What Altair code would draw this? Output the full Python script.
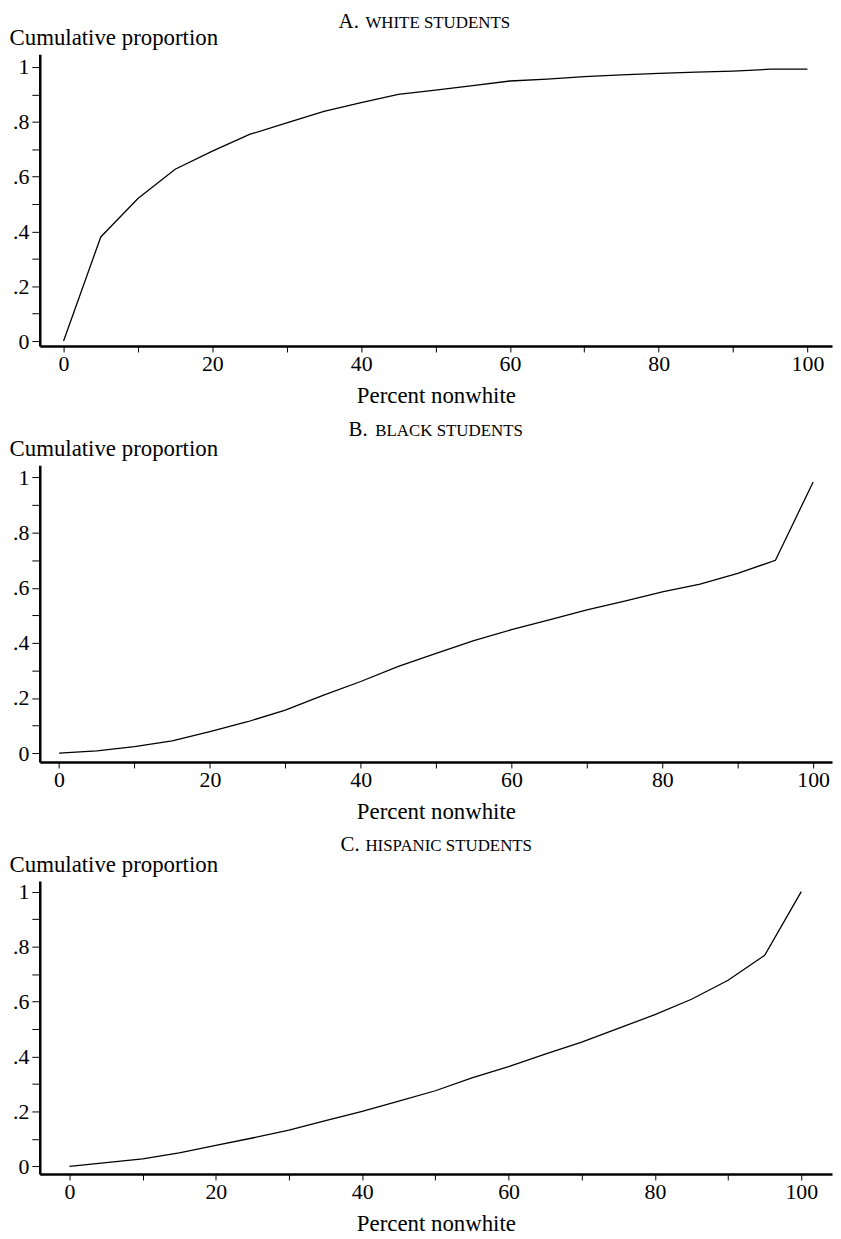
import altair as alt
import pandas as pd

FONT = "Liberation Serif"

# Percent nonwhite (x) and cumulative proportion of students (y)
pct = [0, 5, 10, 15, 20, 25, 30, 35, 40, 45, 50, 55, 60, 65, 70, 75, 80, 85, 90, 95, 100]
white = [0.0, 0.38, 0.52, 0.627, 0.693, 0.754, 0.796, 0.838, 0.870, 0.900, 0.916,
         0.932, 0.949, 0.956, 0.965, 0.971, 0.977, 0.981, 0.985, 0.992, 0.992]
black = [0.0, 0.008, 0.024, 0.045, 0.078, 0.114, 0.156, 0.21, 0.26, 0.315, 0.362,
         0.408, 0.448, 0.484, 0.52, 0.552, 0.585, 0.613, 0.652, 0.70, 0.984]
hispanic = [0.0, 0.013, 0.027, 0.049, 0.076, 0.103, 0.132, 0.166, 0.200, 0.237, 0.275,
            0.322, 0.363, 0.408, 0.452, 0.502, 0.552, 0.608, 0.677, 0.768, 1.0]

panel_letters = ["A.", "B.", "C."]
panel_labels = ["WHITE STUDENTS", "BLACK STUDENTS", "HISPANIC STUDENTS"]

x_tick_values = [0, 10, 20, 30, 40, 50, 60, 70, 80, 90, 100]
y_tick_values = [0, 0.1, 0.2, 0.3, 0.4, 0.5, 0.6, 0.7, 0.8, 0.9, 1.0]

Y_LABEL_EXPR = (
    "round(datum.value * 10) % 2 == 0 ? "
    "(datum.value == 0 ? '0' : (datum.value >= 0.999 ? '1' : "
    "replace(format(datum.value, '.1f'), '0.', '.'))) : ''"
)
X_LABEL_EXPR = "datum.value % 20 == 0 ? format(datum.value, 'd') : ''"

W = 798


def panel(values, letter, label, xdom, ydom, height, letter_x, label_x, title_y):
    df = pd.DataFrame({"pct": pct, "prop": values})
    line = alt.Chart(df).mark_line(color="black", strokeWidth=1.3).encode(
        x=alt.X(
            "pct:Q",
            scale=alt.Scale(domain=xdom, nice=False, zero=False),
            axis=alt.Axis(
                values=x_tick_values,
                labelExpr=X_LABEL_EXPR,
                title="Percent nonwhite",
                titleY=57,
                titleBaseline="alphabetic",
                tickSize=6,
                labelPadding=2,
            ),
        ),
        y=alt.Y(
            "prop:Q",
            scale=alt.Scale(domain=ydom, nice=False, zero=False),
            axis=alt.Axis(
                values=y_tick_values,
                labelExpr=Y_LABEL_EXPR,
                title="Cumulative proportion",
                titleAngle=0,
                titleX=-31,
                titleY=-10,
                titleAlign="left",
                titleBaseline="alphabetic",
                tickSize=8,
                labelPadding=3,
            ),
        ),
    )
    t1 = alt.Chart(pd.DataFrame({"t": [letter]})).mark_text(
        align="left", baseline="alphabetic", font=FONT, fontSize=21, color="black"
    ).encode(text="t:N", x=alt.value(letter_x), y=alt.value(title_y))
    t2 = alt.Chart(pd.DataFrame({"t": [label]})).mark_text(
        align="left", baseline="alphabetic", font=FONT, fontSize=17, color="black"
    ).encode(text="t:N", x=alt.value(label_x), y=alt.value(title_y))
    return alt.layer(line, t1, t2).properties(width=W, height=height)


pa = panel(white, panel_letters[0], panel_labels[0], [-3.2, 103.3], [-0.018, 1.047], 294, 301, 328, -26)
pb = panel(black, panel_letters[1], panel_labels[1], [-2.56, 102.5], [-0.032, 1.045], 299, 311, 338, -29)
pc = panel(hispanic, panel_letters[2], panel_labels[2], [-4.06, 104.2], [-0.028, 1.038], 295, 303, 328, -30)

chart = (
    alt.vconcat(pa, pb, pc, spacing=120, bounds="flush")
    .properties(padding={"top": -2, "left": 0, "right": 0, "bottom": -3}, background="white")
    .configure_view(stroke="transparent")
    .configure_axis(
        grid=False,
        domainColor="black",
        domainWidth=2.5,
        tickColor="black",
        tickWidth=1,
        labelFont=FONT,
        labelFontSize=22,
        labelColor="black",
        titleFont=FONT,
        titleFontSize=23,
        titleFontWeight="normal",
        titleColor="black",
    )
)

chart.save("out.html", embed_options={"renderer": "svg", "actions": False})
